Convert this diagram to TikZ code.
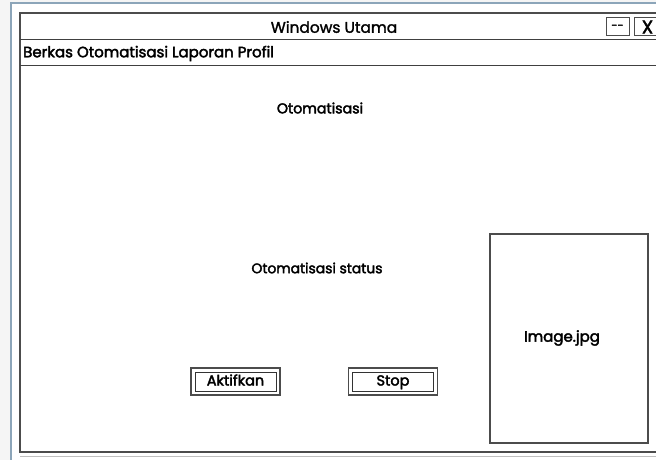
\documentclass[tikz,border=0pt]{standalone}
\usepackage{fontspec}
\setmainfont{Poppins}
\newfontfamily\medium[FakeBold=2.6]{Poppins}
\newfontfamily\semi[FakeBold=1.6]{Poppins}
\begin{document}
\begin{tikzpicture}[x=1pt,y=-1pt,
  frame/.style={draw=black!70, line width=1.6pt},
  thin/.style={draw=black!75, line width=1pt},
  label/.style={inner sep=0pt, font=\medium\fontsize{14}{16}\selectfont},
  btnouter/.style={draw=black!70, line width=1.4pt, minimum width=89pt, minimum height=27pt},
  btninner/.style={draw=black!80, line width=1pt, minimum width=81pt, minimum height=19pt, inner sep=0pt,
    text height=10.5pt, text depth=2.5pt, font=\medium\fontsize{14.5}{16}\selectfont}]
% page and backdrop
\useasboundingbox (0,0) rectangle (656,460);
\fill[gray!8] (0,0) rectangle (656,460);
\fill[white] (11,3) rectangle (656,460);
\draw[draw={rgb,255:red,140;green,165;blue,185}, line width=1.8pt] (11,460) -- (11,3) -- (656,3);
% main window
\draw[frame] (20,13) rectangle (670,452);
\draw[draw=black!25, line width=0.8pt] (20,456) -- (670,456);
\draw[thin] (20,40) -- (670,40);
\draw[thin] (20,66) -- (670,66);
\node[inner sep=0pt, font=\semi\fontsize{15.4}{17}\selectfont] (title) at (334,27) {Windows Utama};
\node[draw=black!70, line width=1pt, minimum width=23pt, minimum height=18pt, inner sep=0pt,
      font=\medium\fontsize{11}{12}\selectfont] (minbtn) at (617.5,27) {{-}{-}};
\node[draw=black!70, line width=1pt, minimum width=26pt, minimum height=18pt, inner sep=0pt,
      font=\fontsize{18}{18}\selectfont\rmfamily, anchor=west] (closebtn) at (634,27) {\medium X};
\node[label, anchor=west, font=\medium\fontsize{15}{17}\selectfont] (menu) at (23,53.5) {Berkas Otomatisasi Laporan Profil};
% content
\node[label, font=\medium\fontsize{14.2}{16}\selectfont] (otomatisasi) at (320,108) {Otomatisasi};
\node[label, font=\medium\fontsize{13.9}{16}\selectfont] (status) at (317,268) {Otomatisasi status};
\node[draw=black!70, line width=1.4pt, minimum width=158pt, minimum height=209pt, inner sep=0pt] (image) at (569,338.5) {};
\node[label, font=\medium\fontsize{15}{17}\selectfont] (imagetext) at (562,338) {Image.jpg};
% buttons
\node[btnouter] (aktifOuter) at (235.5,381.5) {};
\node[btninner] (aktif) at (aktifOuter.center) {Aktifkan};
\node[btnouter] (stopOuter) at (393,381.5) {};
\node[btninner] (stop) at (stopOuter.center) {Stop};
\end{tikzpicture}
\end{document}
